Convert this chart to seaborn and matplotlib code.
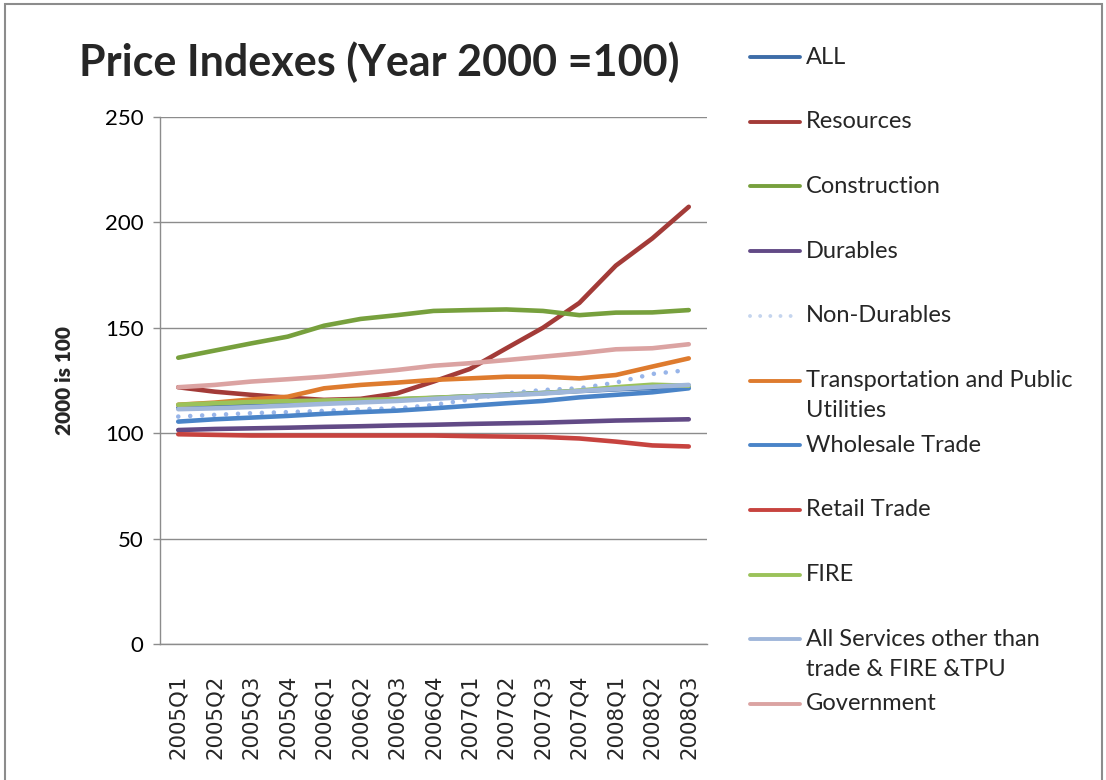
import numpy as np
import pandas as pd
import matplotlib
matplotlib.use("Agg")
import matplotlib.pyplot as plt
from matplotlib.lines import Line2D
import seaborn as sns

# ---- data ----
quarters = ["2005Q1", "2005Q2", "2005Q3", "2005Q4", "2006Q1", "2006Q2", "2006Q3", "2006Q4",
            "2007Q1", "2007Q2", "2007Q3", "2007Q4", "2008Q1", "2008Q2", "2008Q3"]

all_idx = [112.0, 112.8, 113.6, 114.3, 115.0, 115.5, 116.0, 116.7, 117.5, 118.3, 119.1, 120.0, 120.8, 121.5, 122.3]
resources = [121.8, 119.7, 118.2, 116.9, 115.8, 116.3, 118.9, 124.5, 130.5, 140.3, 150.0, 161.8, 179.5, 192.4, 207.4]
construction = [135.8, 139.2, 142.6, 145.8, 151.0, 154.2, 156.0, 158.0, 158.4, 158.7, 158.0, 156.0, 157.2, 157.3, 158.4]
durables = [101.5, 102.0, 102.3, 102.6, 103.0, 103.3, 103.7, 104.0, 104.4, 104.7, 105.0, 105.5, 106.0, 106.3, 106.6]
non_durables = [107.9, 108.7, 109.5, 110.0, 110.6, 111.4, 111.8, 113.4, 116.0, 118.9, 120.5, 121.3, 124.0, 128.1, 130.0]
transport = [113.5, 114.5, 116.0, 117.3, 121.3, 122.9, 124.0, 125.3, 126.0, 126.8, 126.8, 126.0, 127.6, 131.6, 135.5]
wholesale = [105.5, 106.6, 107.4, 108.2, 109.2, 110.0, 110.7, 111.8, 113.0, 114.2, 115.3, 117.0, 118.2, 119.4, 121.3]
retail = [99.5, 99.2, 98.9, 98.9, 98.9, 98.9, 98.9, 98.9, 98.6, 98.4, 98.2, 97.5, 96.0, 94.2, 93.7]
fire = [113.5, 114.2, 114.8, 115.2, 115.5, 115.8, 116.2, 116.8, 117.5, 118.2, 119.0, 120.2, 121.8, 123.0, 122.5]
all_services = [111.4, 111.8, 112.4, 113.1, 113.9, 114.6, 115.3, 116.3, 117.2, 118.0, 118.8, 120.0, 121.0, 122.0, 122.9]
government = [121.8, 122.9, 124.5, 125.6, 126.8, 128.4, 130.0, 132.0, 133.2, 134.7, 136.3, 137.9, 139.8, 140.3, 142.2]

series_names = ["ALL", "Resources", "Construction", "Durables", "Non-Durables",
                "Transportation and Public Utilities", "Wholesale Trade", "Retail Trade",
                "FIRE", "All Services other than trade & FIRE &TPU", "Government"]
legend_labels = ["ALL", "Resources", "Construction", "Durables", "Non-Durables",
                 "Transportation and Public\nUtilities", "Wholesale Trade", "Retail Trade",
                 "FIRE", "All Services other than\ntrade & FIRE &TPU", "Government"]
series_values = [all_idx, resources, construction, durables, non_durables, transport,
                 wholesale, retail, fire, all_services, government]

colors = ["#3D6DA8", "#A33B38", "#77A03D", "#624A86", "#98B5E9", "#DE7B2E",
          "#4A84C8", "#C7433F", "#9BC25A", "#A0B7DA", "#DBA3A2"]

df = pd.DataFrame({
    "Quarter": quarters * len(series_names),
    "Series": np.repeat(series_names, len(quarters)),
    "Value": np.concatenate(series_values),
})

# ---- figure ----
sns.set_theme(style="white")
plt.rcParams["font.family"] = ["Lato", "DejaVu Sans"]

fig = plt.figure(figsize=(11.06, 7.8), dpi=100)
ax = fig.add_axes([160 / 1106, 1 - 644 / 780, 547 / 1106, 527 / 780])

palette = dict(zip(series_names, colors))
dashes = {n: "" for n in series_names}
dashes["Non-Durables"] = (0.01, 2.6)

sns.lineplot(data=df, x="Quarter", y="Value", hue="Series", style="Series",
             hue_order=series_names, style_order=series_names,
             palette=palette, dashes=dashes, linewidth=3.3, sort=False,
             legend=False, ax=ax, dash_capstyle="round", solid_capstyle="round")

ax.set_ylim(0, 250)
ax.set_xlim(-0.5, len(quarters) - 0.5)
ax.set_yticks([0, 50, 100, 150, 200, 250])
ax.yaxis.grid(True, color="#8C8C8C", linewidth=1.0)
ax.xaxis.grid(False)
ax.set_axisbelow(True)
for s in ["top", "right"]:
    ax.spines[s].set_visible(False)
for s in ["left", "bottom"]:
    ax.spines[s].set_color("#8C8C8C")
    ax.spines[s].set_linewidth(1.0)

ax.tick_params(axis="y", labelsize=16, colors="#8C8C8C", labelcolor="black",
               left=True, length=5, width=1, pad=7)
ax.tick_params(axis="x", bottom=False, pad=16)
ax.set_xticks(range(len(quarters)))
ax.set_xticklabels(quarters, rotation=90, fontsize=15.3, family="DejaVu Sans", va="top")
ax.set_xlabel("")
ax.set_ylabel("2000 is 100", fontsize=15, fontweight="heavy", labelpad=22)

fig.text(379 / 1106, 1 - 62 / 780, "Price Indexes (Year 2000 =100)",
         ha="center", va="center", fontsize=31, fontweight="bold")

# ---- legend drawn at the right, Excel style ----
y0, step = 57, 64.7
for i, (lab, col) in enumerate(zip(legend_labels, colors)):
    yp = 1 - (y0 + i * step) / 780
    if series_names[i] == "Non-Durables":
        ln = Line2D([750 / 1106, 794 / 1106], [yp, yp], color="#C5D5EE", lw=2.8,
                    linestyle=(0, (0.01, 2.6)), dash_capstyle="round",
                    transform=fig.transFigure)
    else:
        ln = Line2D([750 / 1106, 800 / 1106], [yp, yp], color=col, lw=2.8,
                    solid_capstyle="round", transform=fig.transFigure)
    fig.add_artist(ln)
    for k, part in enumerate(lab.split("\n")):
        fig.text(806 / 1106, yp - k * 30 / 780, part, ha="left", va="center", fontsize=17)

# outer chart border
fig.add_artist(plt.Rectangle((5 / 1106, -0.01), 1097 / 1106, 1 - 4 / 780 + 0.01,
                             fill=False, edgecolor="#8C8C8C", linewidth=1.5,
                             transform=fig.transFigure))

fig.savefig("out.png", dpi=100)
